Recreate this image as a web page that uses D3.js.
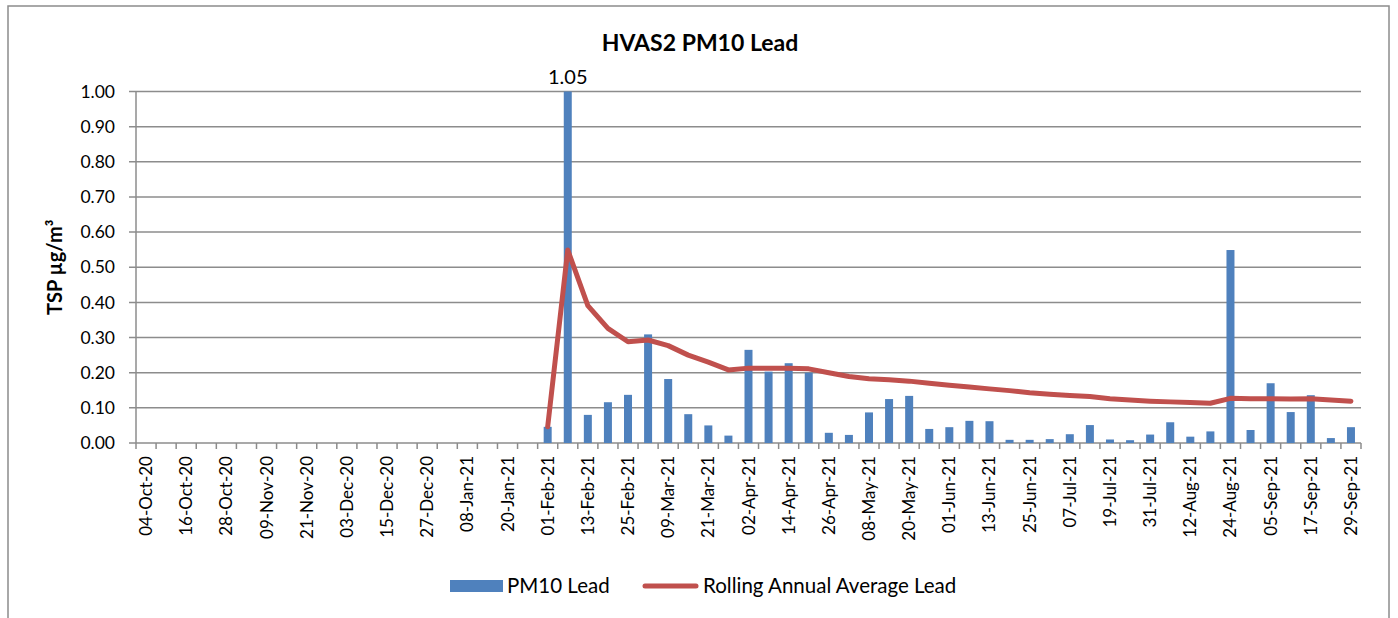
<!DOCTYPE html>
<html><head><meta charset="utf-8">
<script src="https://cdn.jsdelivr.net/npm/d3@7"></script>
<style>
html,body{margin:0;padding:0;background:#fff;}
svg{display:block;font-family:Lato,"Open Sans",sans-serif;}
</style></head>
<body>
<script>
const categories = ["04-Oct-20","10-Oct-20","16-Oct-20","22-Oct-20","28-Oct-20","03-Nov-20","09-Nov-20","15-Nov-20","21-Nov-20","27-Nov-20",
"03-Dec-20","09-Dec-20","15-Dec-20","21-Dec-20","27-Dec-20","02-Jan-21","08-Jan-21","14-Jan-21","20-Jan-21","26-Jan-21",
"01-Feb-21","07-Feb-21","13-Feb-21","19-Feb-21","25-Feb-21","03-Mar-21","09-Mar-21","15-Mar-21","21-Mar-21","27-Mar-21",
"02-Apr-21","08-Apr-21","14-Apr-21","20-Apr-21","26-Apr-21","02-May-21","08-May-21","14-May-21","20-May-21","26-May-21",
"01-Jun-21","07-Jun-21","13-Jun-21","19-Jun-21","25-Jun-21","01-Jul-21","07-Jul-21","13-Jul-21","19-Jul-21","25-Jul-21",
"31-Jul-21","06-Aug-21","12-Aug-21","18-Aug-21","24-Aug-21","30-Aug-21","05-Sep-21","11-Sep-21","17-Sep-21","23-Sep-21","29-Sep-21"];

const pm10Lead = [null,null,null,null,null,null,null,null,null,null,
null,null,null,null,null,null,null,null,null,null,
0.046,1.05,0.080,0.116,0.137,0.309,0.182,0.082,0.050,0.021,
0.265,0.203,0.227,0.200,0.029,0.023,0.087,0.125,0.134,0.040,
0.045,0.063,0.062,0.009,0.009,0.011,0.025,0.051,0.010,0.008,
0.024,0.059,0.018,0.033,0.549,0.037,0.170,0.088,0.136,0.014,0.045];

const rollingAvg = [null,null,null,null,null,null,null,null,null,null,
null,null,null,null,null,null,null,null,null,null,
0.046,0.549,0.391,0.326,0.288,0.293,0.277,0.250,0.230,0.208,
0.213,0.213,0.213,0.211,0.200,0.189,0.183,0.180,0.176,0.170,
0.164,0.159,0.154,0.149,0.143,0.139,0.135,0.132,0.126,0.122,
0.119,0.117,0.115,0.113,0.127,0.126,0.126,0.125,0.126,0.122,0.119];

const yTicks = [0,0.1,0.2,0.3,0.4,0.5,0.6,0.7,0.8,0.9,1.0];
const title = "HVAS2 PM10 Lead";
const yLabel = "TSP µg/m³";
const seriesNames = ["PM10 Lead","Rolling Annual Average Lead"];
const peakLabel = "1.05";

const W = 1398, H = 618;
const L = 136, R = 1361, T = 91.5, B = 443;
const barColor = "#4F81BD", lineColor = "#C0504D", gridColor = "#8C8C8C";

const svg = d3.select("body").append("svg").attr("width", W).attr("height", H);
svg.append("rect").attr("x", 8).attr("y", 6).attr("width", 1381).attr("height", 630)
  .attr("fill", "#fff").attr("stroke", "#8C8C8C").attr("stroke-width", 1.5);

const xSlot = d3.scaleBand().domain(categories).range([L, R]);
const y = d3.scaleLinear().domain([0, 1.0]).range([B, T]);

// gridlines
svg.append("g").selectAll("line").data(yTicks).join("line")
  .attr("x1", L - 7).attr("x2", R).attr("y1", d => y(d)).attr("y2", d => y(d))
  .attr("stroke", gridColor).attr("stroke-width", 1.5);

// y labels
svg.append("g").selectAll("text").data(yTicks).join("text")
  .attr("x", 115).attr("y", d => y(d)).attr("dy", "0.35em").attr("text-anchor", "end")
  .attr("font-size", 17.5).attr("fill", "#000").text(d => d.toFixed(2));

// y axis line
svg.append("line").attr("x1", L).attr("x2", L).attr("y1", T).attr("y2", B)
  .attr("stroke", gridColor).attr("stroke-width", 1.5);

// x tick marks at slot boundaries
const bounds = categories.map(c => xSlot(c)).concat([R]);
svg.append("g").selectAll("line").data(bounds).join("line")
  .attr("x1", d => d).attr("x2", d => d).attr("y1", B).attr("y2", B + 6)
  .attr("stroke", gridColor).attr("stroke-width", 1.5);

// x labels every second category
svg.append("g").selectAll("text").data(categories.filter((c, i) => i % 2 === 0)).join("text")
  .attr("transform", d => `translate(${xSlot(d) + xSlot.bandwidth() / 2 + 6},456) rotate(-90)`)
  .attr("text-anchor", "end").attr("font-size", 17).attr("fill", "#000").text(d => d);

// clip
svg.append("clipPath").attr("id", "plotclip").append("rect")
  .attr("x", L).attr("y", T).attr("width", R - L).attr("height", B - T);

const bw = 8;
svg.append("g").attr("clip-path", "url(#plotclip)").selectAll("rect")
  .data(categories.map((c, i) => ({c, v: pm10Lead[i]})).filter(d => d.v != null))
  .join("rect")
  .attr("x", d => xSlot(d.c) + xSlot.bandwidth() / 2 - bw / 2)
  .attr("width", bw)
  .attr("y", d => y(d.v)).attr("height", d => B - y(d.v))
  .attr("fill", barColor);

// line
const lineData = categories.map((c, i) => ({c, v: rollingAvg[i]})).filter(d => d.v != null);
svg.append("path").datum(lineData)
  .attr("d", d3.line().x(d => xSlot(d.c) + xSlot.bandwidth() / 2).y(d => y(d.v)))
  .attr("fill", "none").attr("stroke", lineColor).attr("stroke-width", 5)
  .attr("stroke-linejoin", "round").attr("stroke-linecap", "round");

// peak data label
const peakCat = categories[pm10Lead.indexOf(1.05)];
svg.append("text").attr("x", xSlot(peakCat) + xSlot.bandwidth() / 2).attr("y", y(1.0) - 8)
  .attr("text-anchor", "middle").attr("font-size", 20).attr("fill", "#000").text(peakLabel);

// title
svg.append("text").attr("x", 700).attr("y", 51).attr("text-anchor", "middle")
  .attr("font-size", 23).attr("font-weight", "bold").attr("fill", "#000").text(title);

// y label
svg.append("text").attr("transform", `translate(62,${(T + B) / 2}) rotate(-90)`)
  .attr("text-anchor", "middle").attr("font-size", 20).attr("font-weight", "bold")
  .attr("fill", "#000").text(yLabel);

// legend
const lg = svg.append("g");
lg.append("rect").attr("x", 450).attr("y", 580).attr("width", 53).attr("height", 12).attr("fill", barColor);
lg.append("text").attr("x", 507).attr("y", 593).attr("font-size", 20.5).attr("fill", "#000").text(seriesNames[0]);
lg.append("line").attr("x1", 645).attr("x2", 696).attr("y1", 586).attr("y2", 586)
  .attr("stroke", lineColor).attr("stroke-width", 5).attr("stroke-linecap", "round");
lg.append("text").attr("x", 703).attr("y", 593).attr("font-size", 20.5).attr("fill", "#000").text(seriesNames[1]);
</script>
</body></html>
